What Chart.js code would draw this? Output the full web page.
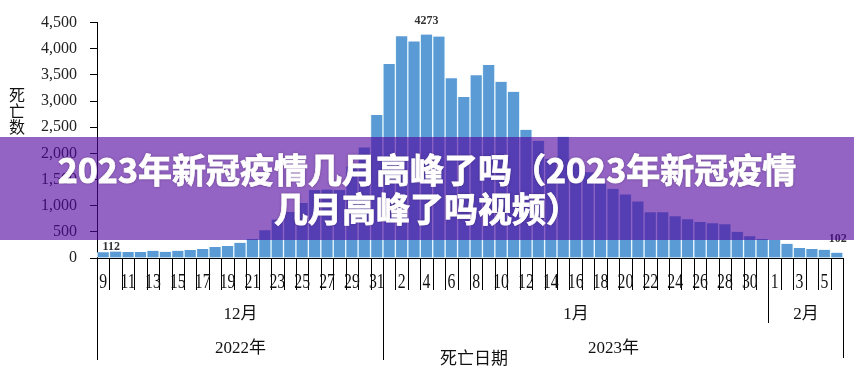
<!DOCTYPE html>
<html>
<head>
<meta charset="utf-8">
<script src="https://cdn.jsdelivr.net/npm/chart.js@4"></script>
<style>
  body { margin: 0; background: #fff; }
  #wrap { position: relative; width: 854px; height: 379px; }
  #banner {
    position: absolute; left: 0; top: 137px; width: 854px; height: 103px;
    background: rgba(82, 5, 160, 0.62);
    color: #fff; text-align: center;
    font-family: "Noto Sans CJK SC", sans-serif; font-weight: bold;
    font-size: 34px; line-height: 39px; padding-top: 12px; box-sizing: border-box;
    -webkit-text-stroke: 0.8px #fff;
    text-shadow: 0 0 3px rgba(40, 20, 60, 0.6);
  }
</style>
</head>
<body>
<div id="wrap">
  <canvas id="graphique" width="854" height="379"></canvas>
  <div id="banner">2023年新冠疫情几月高峰了吗（2023年新冠疫情<br>几月高峰了吗视频）</div>
</div>
<script>
// days 2022-12-09 .. 2023-02-06
const dayLabels = [
  '9','10','11','12','13','14','15','16','17','18','19','20','21','22','23','24','25','26','27','28','29','30','31',
  '1','2','3','4','5','6','7','8','9','10','11','12','13','14','15','16','17','18','19','20','21','22','23','24','25','26','27','28','29','30','31',
  '1','2','3','4','5','6'
];
const deaths = [
  112,125,114,114,139,120,139,152,171,209,228,291,361,532,735,880,1050,1300,1310,1300,1750,2114,2735,
  3709,4241,4140,4273,4235,3437,3076,3494,3690,3367,3177,2450,2241,1893,2317,1800,1639,1430,1323,1215,1082,873,873,798,741,690,665,646,500,418,361,
  342,272,190,171,158,102
];
const monthLabels = ['12月', '1月', '2月'];
const monthDays = [23, 31, 6];
const yearLabels = ['2022年', '2023年'];
const yearMonths = [1, 2];
const labelledDays = [0, 26, 59];
const yTitle = '死亡数';
const xTitle = '死亡日期';

const serif = '"Liberation Serif", "Noto Sans CJK SC", serif';

function line(ctx, x1, y1, x2, y2) {
  ctx.beginPath();
  ctx.moveTo(x1, y1);
  ctx.lineTo(x2, y2);
  ctx.stroke();
}

const decor = {
  id: 'decor',
  afterDraw(chart) {
    const ctx = chart.ctx;
    const x = chart.scales.x;
    const area = chart.chartArea;
    const half = (x.getPixelForValue(1) - x.getPixelForValue(0)) / 2;
    const edge = i => Math.round(x.getPixelForValue(i) - half) + 0.5;
    const b = area.bottom;
    ctx.save();
    ctx.strokeStyle = '#000';
    ctx.fillStyle = '#111';
    ctx.lineWidth = 1;

    // baseline + day ticks
    line(ctx, area.left - 7, b + 0.5, edge(dayLabels.length), b + 0.5);
    for (let i = 0; i <= dayLabels.length; i++) line(ctx, edge(i), b, edge(i), b + 32);

    ctx.textAlign = 'center';
    ctx.textBaseline = 'alphabetic';
    ctx.font = '21px ' + serif;
    dayLabels.forEach((d, i) => {
      if (i % 2) return;
      ctx.save();
      ctx.translate(x.getPixelForValue(i), b + 30);
      ctx.scale(0.75, 1);
      ctx.fillText(d, 0, 0);
      ctx.restore();
    });

    // month groups
    ctx.font = '17px ' + serif;
    let s = 0;
    const monthStart = [];
    monthDays.forEach((n, k) => {
      monthStart.push(s);
      line(ctx, edge(s), b, edge(s), b + 65);
      ctx.fillText(monthLabels[k], (edge(s) + edge(s + n)) / 2, b + 61);
      s += n;
    });
    monthStart.push(s);
    line(ctx, edge(s), b, edge(s), b + 100);

    // year groups
    let m = 0;
    yearMonths.forEach((n, k) => {
      const a = edge(monthStart[m]);
      const e = edge(monthStart[m + n]);
      line(ctx, a, b, a, b + 102);
      ctx.fillText(yearLabels[k], (a + e) / 2, b + 95);
      m += n;
    });

    // axis titles
    ctx.fillText(xTitle, (area.left + area.right) / 2 + 4, b + 106);
    ctx.font = '16px ' + serif;
    [...yTitle].forEach((c, i) => ctx.fillText(c, 17, 101 + i * 16));

    // data labels
    const meta = chart.getDatasetMeta(0);
    ctx.font = 'bold 12px ' + serif;
    ctx.fillStyle = '#333';
    const shift = { 0: [8, -2], 26: [0, -10], 59: [1, -11] };
    labelledDays.forEach(i => {
      const bar = meta.data[i];
      const [dx, dy] = shift[i];
      ctx.fillText(String(deaths[i]), bar.x + dx, bar.y + dy);
    });
    ctx.restore();
  }
};

new Chart(document.getElementById('graphique'), {
  type: 'bar',
  data: {
    labels: dayLabels,
    datasets: [{
      data: deaths,
      backgroundColor: '#5b9bd5',
      borderColor: '#e6f7fc',
      borderWidth: { left: 1, right: 1, top: 0, bottom: 0 },
      borderSkipped: false,
      barPercentage: 1,
      categoryPercentage: 1
    }]
  },
  options: {
    responsive: false,
    animation: false,
    layout: { padding: { left: 0, right: 11, top: 21, bottom: 121 } },
    plugins: { legend: { display: false }, tooltip: { enabled: false } },
    scales: {
      x: { display: false },
      y: {
        min: 0, max: 4500,
        afterFit(scale) { scale.width = 97; },
        ticks: {
          stepSize: 500,
          padding: 13,
          color: '#222',
          font: { family: serif, size: 16 },
          callback: v => v.toLocaleString('en-US')
        },
        grid: { drawOnChartArea: false, tickLength: 7, color: '#000' },
        border: { color: '#000' }
      }
    }
  },
  plugins: [decor]
});
</script>
</body>
</html>
